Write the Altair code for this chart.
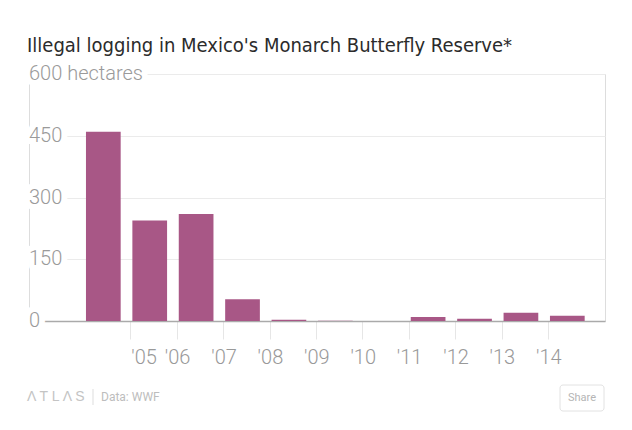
import altair as alt
import pandas as pd

# ---- data ----
years = ["'04", "'05", "'06", "'07", "'08", "'09", "'10", "'11", "'12", "'13", "'14"]
hectares = [460, 244, 260, 53, 3, 0.8, 0, 9.7, 5.6, 20, 13]
y_ticks = [0, 150, 300, 450, 600]
y_tick_labels = ["0", "150", "300", "450", "600 hectares"]
title_text = "Illegal logging in Mexico's Monarch Butterfly Reserve*"
logo_text = ["Λ T L Λ S"]
source_text = ["Data: WWF"]
share_text = ["Share"]

bars_df = pd.DataFrame({"year": years, "hectares": hectares})
ylab_df = pd.DataFrame({"v": y_ticks, "label": y_tick_labels})

W, H = 576, 247
LABEL_FONT = "Roboto"

y_scale = alt.Scale(domain=[0, 600], nice=False, zero=True)
y_axis = alt.Axis(values=y_ticks[1:], grid=True, labels=False, ticks=False,
                  domain=False, title=None, gridColor="#ebebeb", gridWidth=1)

x_axis = alt.Axis(
    values=years[1:], bandPosition=0, tickOffset=-2, tickSize=18,
    tickColor="#e6e6e6", tickWidth=1, domainColor="#aaaaaa", domainWidth=1.5,
    labelFont=LABEL_FONT, labelFontSize=20, labelFontWeight=300,
    labelColor="#999999", labelPadding=8, labelAngle=0, labelOffset=-17,
    labelAlign={"condition": {"test": "datum.value == \"'05\"", "value": "left"},
                "value": "center"},
    title=None, zindex=0, grid=False,
)

bars = alt.Chart(bars_df).mark_bar(color="#a85786").encode(
    x=alt.X("year:N", sort=years,
            scale=alt.Scale(paddingInner=0.252, paddingOuter=0.833, align=0.737),
            axis=x_axis),
    y=alt.Y("hectares:Q", scale=y_scale, axis=y_axis),
)

halo = alt.Chart(ylab_df).mark_text(
    align="left", baseline="middle", font=LABEL_FONT, fontSize=20, fontWeight=300,
    fill="white", stroke="white", strokeWidth=12, strokeJoin="round",
).encode(
    x=alt.value(0),
    y=alt.Y("v:Q", scale=y_scale, axis=y_axis),
    text="label:N",
)

ylabels = alt.Chart(ylab_df).mark_text(
    align="left", baseline="middle", font=LABEL_FONT, fontSize=20, fontWeight=300,
    fill="#9a9a9a",
).encode(
    x=alt.value(0),
    y=alt.Y("v:Q", scale=y_scale, axis=y_axis),
    text="label:N",
)

logo = alt.Chart(pd.DataFrame({"t": logo_text})).mark_text(
    align="left", baseline="middle", font="Liberation Sans", fontSize=14,
    fill="#c4c4c4",
).encode(x=alt.value(-2), y=alt.value(323), text="t:N")

divider = alt.Chart(pd.DataFrame({"t": ["|"]})).mark_rule(
    color="#dddddd", strokeWidth=1
).encode(x=alt.value(64), y=alt.value(315), y2=alt.value(331))

source = alt.Chart(pd.DataFrame({"t": source_text})).mark_text(
    align="left", baseline="middle", font="Roboto", fontSize=12,
    fill="#bdbdbd",
).encode(x=alt.value(72), y=alt.value(323), text="t:N")

share_box = alt.Chart(pd.DataFrame({"t": share_text})).mark_rect(
    cornerRadius=3, fill="white", stroke="#e2e2e2", strokeWidth=1
).encode(x=alt.value(531), x2=alt.value(575), y=alt.value(311), y2=alt.value(337))

share = alt.Chart(pd.DataFrame({"t": share_text})).mark_text(
    align="center", baseline="middle", font="Roboto", fontSize=11,
    fill="#b5b5b5",
).encode(x=alt.value(553), y=alt.value(324), text="t:N")

chart = alt.layer(
    bars, halo, ylabels, logo, divider, source, share_box, share
).properties(
    width=W, height=H,
    autosize="none",
    padding={"left": 21, "top": 66, "right": 11, "bottom": 97},
    title=alt.TitleParams(
        text=title_text, anchor="start", frame="group",
        font="DejaVu Sans Condensed", fontSize=20, fontWeight="normal",
        color="#2b2b2b", offset=8, dx=-2,
    ),
).configure_view(stroke=None).configure(background="white")

chart.save("out.html", embed_options={"renderer": "svg", "actions": False})
